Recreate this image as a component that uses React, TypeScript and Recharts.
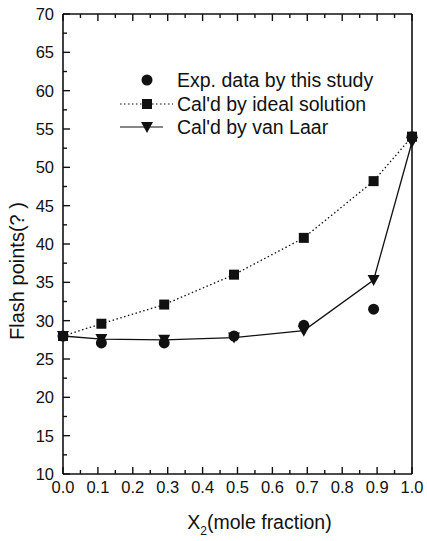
import React from 'react';
import { LineChart, Line, XAxis, YAxis } from 'recharts';

const X_VALUES = [0, 0.11, 0.29, 0.49, 0.69, 0.89, 1.0];
const EXP_DATA = [28.0, 27.1, 27.1, 28.0, 29.4, 31.5, 54.0];
const IDEAL_DATA = [28.0, 29.6, 32.1, 36.0, 40.8, 48.2, 54.0];
const VAN_LAAR_DATA = [28.0, 27.6, 27.5, 27.8, 28.7, 35.3, 53.3];

const X_TICKS = [0, 0.1, 0.2, 0.3, 0.4, 0.5, 0.6, 0.7, 0.8, 0.9, 1.0];
const X_MINOR = [0.05, 0.15, 0.25, 0.35, 0.45, 0.55, 0.65, 0.75, 0.85, 0.95];
const Y_TICKS = [10, 15, 20, 25, 30, 35, 40, 45, 50, 55, 60, 65, 70];
const Y_MINOR = [12.5, 17.5, 22.5, 27.5, 32.5, 37.5, 42.5, 47.5, 52.5, 57.5, 62.5, 67.5];

const LEGEND_NAMES = ['Exp. data by this study', "Cal'd by ideal solution", "Cal'd by van Laar"];

const data = X_VALUES.map((x, i) => ({
  x,
  exp: EXP_DATA[i],
  ideal: IDEAL_DATA[i],
  vanLaar: VAN_LAAR_DATA[i],
}));

const X_ALL = [...X_TICKS, ...X_MINOR].sort((a, b) => a - b);
const Y_ALL = [...Y_TICKS, ...Y_MINOR].sort((a, b) => a - b);

const FONT = '"Liberation Sans", Arial, sans-serif';
const INK = '#111';
const MAJOR = 7;
const MINOR = 4;

const isMajorX = (v: number) => X_TICKS.some((t) => Math.abs(t - v) < 1e-6);
const isMajorY = (v: number) => Y_TICKS.some((t) => Math.abs(t - v) < 1e-6);

// ticks point into the plot; tickSize/tickMargin are 0 so x/y sit on the axis line
const BottomTick = (props: any) => {
  const { x, y, payload } = props;
  const major = isMajorX(payload.value);
  return (
    <g>
      <line x1={x} x2={x} y1={y} y2={y - (major ? MAJOR : MINOR)} stroke={INK} strokeWidth={1.4} />
      {major && (
        <text x={x} y={y + 7} dy="0.71em" textAnchor="middle" fontSize={16.5} fill={INK} fontFamily={FONT}>
          {payload.value.toFixed(1)}
        </text>
      )}
    </g>
  );
};

const TopTick = (props: any) => {
  const { x, y, payload } = props;
  const major = isMajorX(payload.value);
  return <line x1={x} x2={x} y1={y} y2={y + (major ? MAJOR : MINOR)} stroke={INK} strokeWidth={1.4} />;
};

const LeftTick = (props: any) => {
  const { x, y, payload } = props;
  const major = isMajorY(payload.value);
  return (
    <g>
      <line x1={x} x2={x + (major ? MAJOR : MINOR)} y1={y} y2={y} stroke={INK} strokeWidth={1.4} />
      {major && (
        <text x={x - 9} y={y} dy="0.36em" textAnchor="end" fontSize={16.5} fill={INK} fontFamily={FONT}>
          {payload.value}
        </text>
      )}
    </g>
  );
};

const RightTick = (props: any) => {
  const { x, y, payload } = props;
  const major = isMajorY(payload.value);
  return <line x1={x} x2={x - (major ? MAJOR : MINOR)} y1={y} y2={y} stroke={INK} strokeWidth={1.4} />;
};

const CircleDot = (props: any) => {
  const { cx, cy, index } = props;
  return <circle key={`c-${index}`} cx={cx} cy={cy} r={5.5} fill={INK} />;
};

const SquareDot = (props: any) => {
  const { cx, cy, index } = props;
  return <rect key={`s-${index}`} x={cx - 5} y={cy - 5} width={10} height={10} fill={INK} />;
};

const TriangleDot = (props: any) => {
  const { cx, cy, index } = props;
  return <path key={`t-${index}`} d={`M${cx - 6},${cy - 5} L${cx + 6},${cy - 5} L${cx},${cy + 6} Z`} fill={INK} />;
};

const LegendBox = () => (
  <svg width={290} height={72} style={{ position: 'absolute', left: 115, top: 68, fontFamily: FONT }}>
    <circle cx={32} cy={12} r={5.5} fill={INK} />
    <line x1={5} x2={58} y1={36} y2={36} stroke={INK} strokeWidth={1.2} strokeDasharray="1.5 2.5" />
    <rect x={27} y={31} width={10} height={10} fill={INK} />
    <line x1={5} x2={48} y1={59} y2={59} stroke={INK} strokeWidth={1.2} />
    <path d="M26,54 L38,54 L32,65 Z" fill={INK} />
    {LEGEND_NAMES.map((name, i) => (
      <text key={name} x={62} y={12 + i * 23.5} dy="0.36em" fontSize={19.5} fill={INK}>
        {name}
      </text>
    ))}
  </svg>
);

const App = () => {
  return (
    <div style={{ position: 'absolute', left: 0, top: 0, width: 427, height: 541, background: '#fff' }}>
      <LineChart width={427} height={541} data={data} margin={{ top: 13, right: 14, bottom: 0, left: 0 }}>
        <XAxis xAxisId="x" dataKey="x" type="number" domain={[0, 1]} ticks={X_ALL} height={67} interval={0}
          axisLine={{ stroke: INK, strokeWidth: 1.6 }} tickLine={false} tickSize={0} tickMargin={0}
          tick={<BottomTick />}
          label={{
            content: (p: any) => {
              const vb = p.viewBox;
              return (
                <text x={vb.x + vb.width / 2 + 22} y={vb.y + 48} textAnchor="middle" dy="0.36em" fontSize={19.5} fill={INK} fontFamily={FONT}>
                  X<tspan fontSize={12} dy={6}>2</tspan><tspan dy={-6}>(mole fraction)</tspan>
                </text>
              );
            },
          }} />
        <XAxis xAxisId="xt" orientation="top" dataKey="x" type="number" domain={[0, 1]} ticks={X_ALL} height={1} interval={0}
          axisLine={{ stroke: INK, strokeWidth: 1.6 }} tickLine={false} tickSize={0} tickMargin={0}
          tick={<TopTick />} />

        <YAxis yAxisId="y" type="number" domain={[10, 70]} ticks={Y_ALL} width={63} interval={0}
          axisLine={{ stroke: INK, strokeWidth: 1.6 }} tickLine={false} tickSize={0} tickMargin={0}
          tick={<LeftTick />}
          label={{
            content: (p: any) => {
              const vb = p.viewBox;
              const cy = vb.y + vb.height / 2 + 27;
              return (
                <text x={17} y={cy} transform={`rotate(-90, 17, ${cy})`} textAnchor="middle" dy="0.36em" fontSize={20} fill={INK} fontFamily={FONT}>
                  Flash points(? )
                </text>
              );
            },
          }} />
        <YAxis yAxisId="yr" orientation="right" type="number" domain={[10, 70]} ticks={Y_ALL} width={1} interval={0}
          axisLine={{ stroke: INK, strokeWidth: 1.6 }} tickLine={false} tickSize={0} tickMargin={0}
          tick={<RightTick />} />

        <Line xAxisId="x" yAxisId="y" dataKey="ideal" stroke={INK} strokeWidth={1.3} strokeDasharray="1.5 2.5"
          dot={SquareDot} activeDot={false} isAnimationActive={false} />
        <Line xAxisId="x" yAxisId="y" dataKey="vanLaar" stroke={INK} strokeWidth={1.3}
          dot={TriangleDot} activeDot={false} isAnimationActive={false} />
        <Line xAxisId="x" yAxisId="y" dataKey="exp" stroke="none" strokeWidth={0}
          dot={CircleDot} activeDot={false} isAnimationActive={false} />
      </LineChart>
      <LegendBox />
    </div>
  );
};

export default App;
